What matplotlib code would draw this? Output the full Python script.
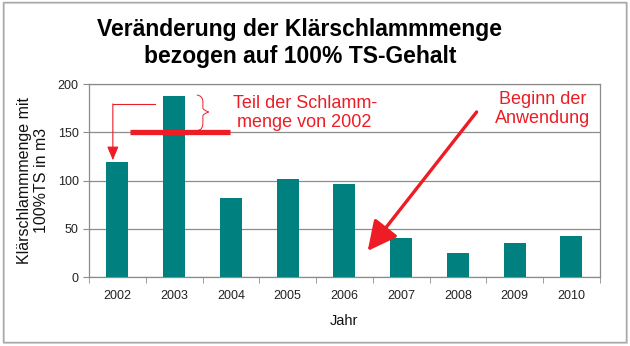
#sludge quantity per year, normalised to 100% dry solids
import matplotlib.pyplot as plt
from matplotlib.patches import Rectangle, PathPatch
from matplotlib.path import Path
import numpy as np

plt.rcParams['font.family'] = ['Liberation Sans', 'DejaVu Sans']

years = ["2002", "2003", "2004", "2005", "2006", "2007", "2008", "2009", "2010"]
sludge = [119, 188, 82, 102, 96, 40, 25, 35, 42]
yticks = [0, 50, 100, 150, 200]

#share of the 2002 amount, drawn as a bar across 2003
share_2002 = 150

teal = "#00807f"
red = "#ee1c24"
grey = "#8c8c8c"

fig = plt.figure(figsize=(6.3, 3.46), dpi=100)
ax = fig.add_axes([0.1413, 0.1994, 0.8107, 0.5578])

x = np.arange(len(years))
ax.bar(x, sludge, width=0.39, color=teal, zorder=3)

ax.set_xlim(-0.5, len(years) - 0.5)
ax.set_ylim(0, 200)
ax.set_yticks(yticks)
ax.set_xticks(x)
ax.set_xticklabels(years, fontsize=9, color="#222222")
ax.tick_params(axis='x', length=0, pad=9)
#ticks between the categories like a spreadsheet chart
ax.set_xticks(np.arange(len(years) + 1) - 0.5, minor=True)
ax.tick_params(axis='x', which='minor', length=4, color=grey, direction='out')
ax.tick_params(axis='y', labelsize=9, length=4, color=grey, labelcolor="#222222")
ax.grid(axis='y', color=grey, linewidth=0.9, zorder=0)
for s in ax.spines.values():
	s.set_color(grey)
	s.set_linewidth(0.9)

ax.set_xlabel("Jahr", fontsize=10.5, labelpad=9, color="#111111")
ax.set_ylabel("Klärschlammmenge mit\n100%TS in m3", fontsize=11.5, labelpad=6, color="#111111")

fig.text(0.476, 0.875, "Veränderung der Klärschlammmenge\nbezogen auf 100% TS-Gehalt",
	ha='center', va='center', fontsize=16.5, fontweight='bold', linespacing=1.25)

#thick bar at the 2002 level
ax.hlines(share_2002, 0.22, 1.98, color=red, linewidth=3.8, zorder=5)

#thin elbow arrow pointing at the 2002 bar
ax.plot([0.66, -0.08], [179, 179], color=red, linewidth=0.8, zorder=5, clip_on=False)
ax.annotate("", xy=(-0.08, sludge[0] + 2), xytext=(-0.08, 179.4),
	arrowprops=dict(arrowstyle='-|>,head_length=0.6,head_width=0.25', color=red,
		lw=0.8, mutation_scale=14, shrinkA=0, shrinkB=0), zorder=5)

#curly brace between the 2003 bar top and the 2002 level
verts = [(1.40, 188.6), (1.507, 188.0), (1.507, 181.0),
	(1.507, 175.0), (1.507, 173.0), (1.613, 171.0),
	(1.507, 169.0), (1.507, 167.0), (1.507, 160.0),
	(1.507, 152.5), (1.42, 152.0)]
codes = [Path.MOVETO, Path.CURVE3, Path.CURVE3,
	Path.LINETO, Path.CURVE3, Path.CURVE3,
	Path.CURVE3, Path.CURVE3, Path.LINETO,
	Path.CURVE3, Path.CURVE3]
ax.add_patch(PathPatch(Path(verts, codes), facecolor='none', edgecolor=red, linewidth=0.7, zorder=5))

ax.text(3.30, 170, "Teil der Schlamm-\nmenge von 2002", color=red, fontsize=13,
	ha='center', va='center', multialignment='center', linespacing=1.2, zorder=6)

#start of the treatment
ax.text(7.49, 174, "Beginn der\nAnwendung", color=red, fontsize=13,
	ha='center', va='center', multialignment='center', linespacing=1.2, zorder=6,
	bbox=dict(facecolor='white', edgecolor='none', pad=1))
ax.annotate("", xy=(4.41, 27), xytext=(6.33, 171),
	arrowprops=dict(arrowstyle='-|>,head_length=0.9,head_width=0.45', color=red,
		lw=2.4, mutation_scale=20, shrinkA=0, shrinkB=0), zorder=6)

#frame round the whole chart
fig.patches.append(Rectangle((0.0065, 0.0085), 0.989, 0.983, transform=fig.transFigure,
	facecolor='none', edgecolor='#d8d8d8', linewidth=1.5, zorder=0))
fig.patches.append(Rectangle((0.0048, 0.0116), 0.989, 0.983, transform=fig.transFigure,
	facecolor='none', edgecolor='#a8a8a8', linewidth=1.0, zorder=1))

fig.savefig("out.png", dpi=100)
